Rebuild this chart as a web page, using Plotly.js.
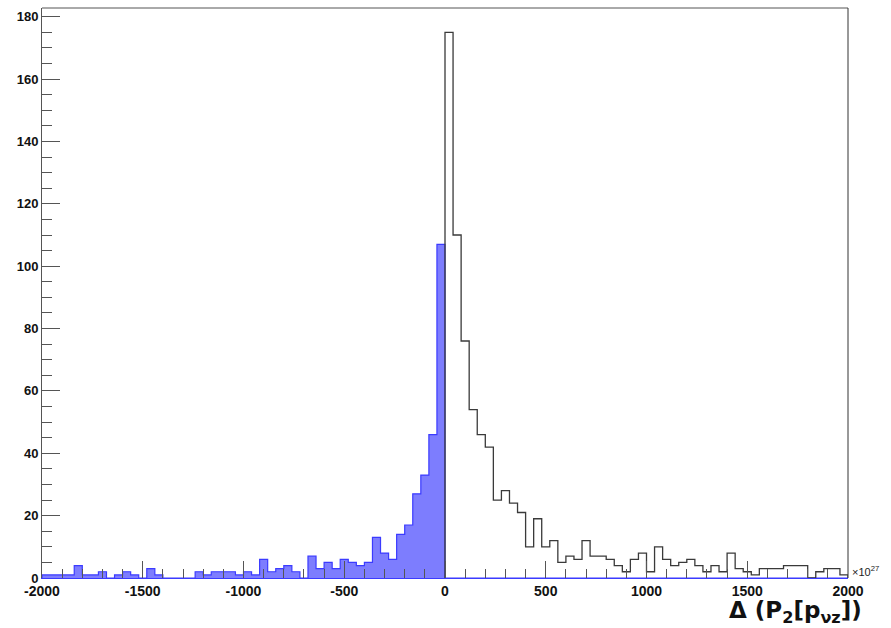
<!DOCTYPE html>
<html>
<head>
<meta charset="utf-8">
<script src="https://cdn.plot.ly/plotly-3.0.1.min.js"></script>
<style>html,body{margin:0;padding:0;background:#fff;}</style>
</head>
<body>
<div id="chart" style="width:891px;height:628px;"></div>
<script>
// Histogram binning: 100 bins of width 40 from -2000 to 2000
const binStart = -2000;
const binWidth = 40;

// Counts for bins -2000 .. 0 (filled, blue)
const negCounts = [1, 1, 1, 1, 4, 1, 1, 2, 0, 1,
                   2, 1, 0, 3, 1, 0, 0, 0, 0, 2,
                   1, 2, 2, 2, 1, 2, 1, 6, 2, 3,
                   4, 2, 0, 7, 3, 5, 3, 6, 5, 4,
                   5, 13, 8, 6, 14, 17, 27, 33, 46, 107];

// Counts for bins 0 .. 2000 (outline, black)
const posCounts = [175, 110, 76, 54, 46, 42, 25, 28, 24, 21,
                   10, 19, 10, 12, 5, 7, 6, 12, 7, 7,
                   6, 4, 2, 6, 8, 2, 10, 6, 4, 5,
                   6, 4, 2, 4, 2, 8, 3, 2, 1, 3,
                   3, 3, 4, 4, 4, 0, 2, 3, 3, 1];

const xTickVals = [-2000, -1500, -1000, -500, 0, 500, 1000, 1500, 2000];
const xTickText = ["-2000", "-1500", "-1000", "-500", "0", "500", "1000", "1500", "2000"];
const yTickVals = [0, 20, 40, 60, 80, 100, 120, 140, 160, 180];

function stepXY(counts, start) {
  const x = [start], y = [0];
  counts.forEach((c, i) => { x.push(start + i * binWidth); y.push(c); });
  x.push(start + counts.length * binWidth); y.push(0);
  return {x, y};
}

const negStep = stepXY(negCounts.concat(posCounts.map(() => 0)), binStart);
const posStep = stepXY(posCounts, 0);

const traces = [
  {
    type: 'scatter', mode: 'lines',
    x: negStep.x, y: negStep.y,
    line: {shape: 'hv', color: '#3b3bff', width: 1.2},
    fill: 'tozeroy', fillcolor: '#7d7dfe',
    hoverinfo: 'skip', showlegend: false
  },
  {
    type: 'scatter', mode: 'lines',
    x: posStep.x, y: posStep.y,
    line: {shape: 'hv', color: '#3a3a3a', width: 1.3},
    hoverinfo: 'skip', showlegend: false
  }
];

const tickFont = {family: 'Liberation Sans, Arial, sans-serif', size: 14, color: '#111', weight: 'bold'};

const layout = {
  width: 891, height: 628,
  margin: {l: 42, r: 43, t: 8, b: 50},
  paper_bgcolor: '#fff', plot_bgcolor: '#fff',
  showlegend: false,
  xaxis: {
    range: [-2000, 2000],
    tickmode: 'array', tickvals: xTickVals, ticktext: xTickText,
    ticks: 'inside', ticklen: 17, tickwidth: 1, tickcolor: '#555',
    minor: {dtick: 100, tick0: -2000, ticks: 'inside', ticklen: 9, tickwidth: 1, tickcolor: '#555'},
    showline: true, linecolor: '#3b3bff', linewidth: 1,
    showgrid: false, zeroline: false,
    tickfont: tickFont, layer: 'above traces'
  },
  yaxis: {
    range: [0, 182.8],
    tickmode: 'array', tickvals: yTickVals,
    ticks: 'inside', ticklen: 18, tickwidth: 1, tickcolor: '#555',
    minor: {dtick: 5, tick0: 0, ticks: 'inside', ticklen: 10, tickwidth: 1, tickcolor: '#555'},
    showline: true, linecolor: '#555', linewidth: 1,
    showgrid: false, zeroline: false,
    tickfont: {family: 'Liberation Sans, Arial, sans-serif', size: 13, color: '#111', weight: 'bold'},
    layer: 'above traces'
  },
  shapes: [
    {type: 'line', xref: 'paper', yref: 'paper', x0: 0, x1: 1, y0: 1, y1: 1, line: {color: '#555', width: 1}},
    {type: 'line', xref: 'paper', yref: 'paper', x0: 1, x1: 1, y0: 0, y1: 1, line: {color: '#333', width: 1}}
  ],
  annotations: [
    {
      xref: 'paper', yref: 'paper', x: 1.02, y: -0.06,
      xanchor: 'right', yanchor: 'middle', showarrow: false,
      text: 'Δ (P<sub>2</sub>[p<sub>νz</sub>])',
      font: {family: 'DejaVu Sans, Liberation Sans, sans-serif', size: 23, color: '#111', weight: 'bold'}
    },
    {
      xref: 'paper', yref: 'paper', x: 1.002, y: 0.012,
      xanchor: 'left', yanchor: 'middle', showarrow: false,
      text: '×10<sup>27</sup>',
      font: {family: 'Liberation Sans, Arial, sans-serif', size: 11, color: '#222'}
    }
  ]
};

Plotly.newPlot('chart', traces, layout, {displayModeBar: false, staticPlot: true});
</script>
</body>
</html>
